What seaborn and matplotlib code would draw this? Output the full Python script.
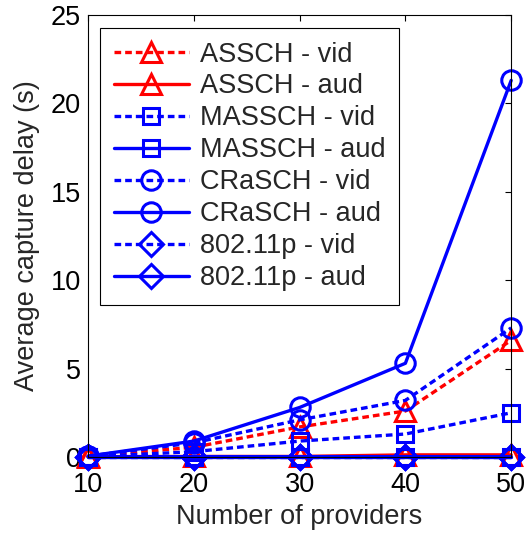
import numpy as np
import pandas as pd
import seaborn as sns
import matplotlib.pyplot as plt

providers = [10, 20, 30, 40, 50]
assch_vid = [0.05, 0.55, 1.7, 2.6, 6.6]
assch_aud = [0.02, 0.03, 0.03, 0.12, 0.12]
massch_vid = [0.02, 0.3, 0.9, 1.3, 2.5]
massch_aud = [0.01, 0.02, 0.02, 0.02, 0.02]
crasch_vid = [0.05, 0.8, 2.1, 3.2, 7.3]
crasch_aud = [0.05, 0.9, 2.8, 5.3, 21.3]
p80211_vid = [0.0, 0.0, 0.0, 0.0, 0.0]
p80211_aud = [0.0, 0.0, 0.0, 0.0, 0.0]

labels = ["ASSCH - vid", "ASSCH - aud", "MASSCH - vid", "MASSCH - aud",
          "CRaSCH - vid", "CRaSCH - aud", "802.11p - vid", "802.11p - aud"]
series = [assch_vid, assch_aud, massch_vid, massch_aud,
          crasch_vid, crasch_aud, p80211_vid, p80211_aud]
colors = ["red", "red", "blue", "blue", "blue", "blue", "blue", "blue"]
markers = ["^", "^", "s", "s", "o", "o", "D", "D"]
msizes = [15, 15, 12, 12, 14, 14, 12, 12]
dashed = [True, False, True, False, True, False, True, False]

sns.set_style("white")
plt.rcParams["font.family"] = ["Liberation Sans", "DejaVu Sans"]
fs = 19.5

fig = plt.figure(figsize=(5.27, 5.33), dpi=100)
ax = fig.add_axes([0.167, 0.1426, 0.803, 0.8293])

for lab, ys, c, m, ms, d in zip(labels, series, colors, markers, msizes, dashed):
    ls = (0, (2.0, 1.2)) if d else "-"
    sns.lineplot(x=providers, y=ys, ax=ax, color=c, marker=m, markersize=ms,
                 markerfacecolor="none", markeredgecolor=c, markeredgewidth=2.2,
                 linewidth=2.4, linestyle=ls, label=lab, clip_on=False)

ax.set_xlim(10, 50)
ax.set_ylim(0, 25)
ax.set_xticks([10, 20, 30, 40, 50])
ax.set_yticks([0, 5, 10, 15, 20, 25])
ax.tick_params(direction="in", length=4, width=0.8, top=True, right=True,
               labelsize=fs, colors="black")
ax.tick_params(axis="x", pad=11)
ax.tick_params(axis="y", pad=5)
for s in ax.spines.values():
    s.set_color("black")
    s.set_linewidth(0.8)
ax.set_xlabel("Number of providers", fontsize=fs, labelpad=4)
ax.set_ylabel("Average capture delay (s)", fontsize=fs, labelpad=8)

leg = ax.legend(loc="upper left", bbox_to_anchor=(0.0284, 0.9706), fontsize=fs,
                handlelength=2.8, labelspacing=0.22, borderpad=0.5,
                handletextpad=0.4, borderaxespad=0, fancybox=False, framealpha=1)
leg.get_frame().set_edgecolor("black")
leg.get_frame().set_linewidth(0.8)

fig.savefig("out.png", dpi=100)
